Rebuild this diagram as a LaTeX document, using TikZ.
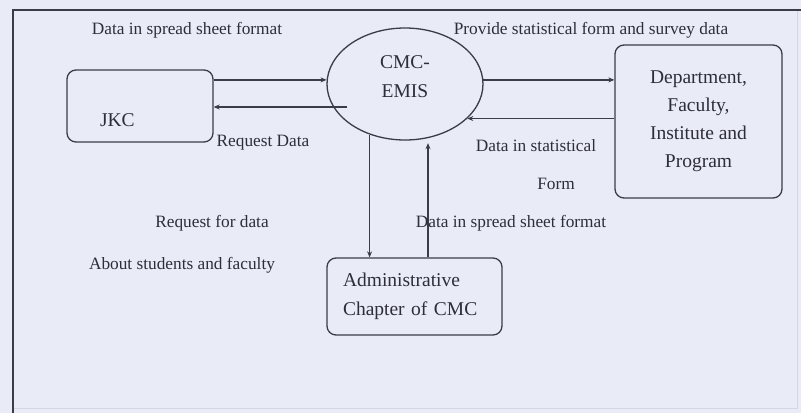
\documentclass[tikz,border=0pt]{standalone}
\usepackage{fontspec}
\setmainfont{Liberation Serif}
\usetikzlibrary{arrows.meta, positioning, shapes.geometric, calc}
\definecolor{pagebg}{HTML}{E9EBF7}
\definecolor{inkline}{HTML}{3C3C46}
\definecolor{inktext}{HTML}{2E2E38}
\definecolor{framefaint}{HTML}{D4D6E4}
\tikzset{
  flowbox/.style={rectangle, draw=inkline, line width=1.3pt, rounded corners=9pt,
                  inner sep=0pt, font=\fontsize{19.5}{28}\selectfont},
  flowlabel/.style={inner sep=0pt, font=\fontsize{17.3}{20}\selectfont},
  flowarrow/.style={draw=inkline, line width=1.5pt, -{Stealth[length=6pt, width=5pt]}},
}

\begin{document}
\begin{tikzpicture}[x=1pt, y=-1pt, every node/.style={text=inktext}]
  % page and frame
  \fill[pagebg] (0,0) rectangle (801,413);
  \useasboundingbox (0,0) rectangle (801,413);
  \draw[framefaint, line width=1pt] (797,10) -- (797,408) -- (13,408);
  \draw[inkline, line width=2pt] (13,413) -- (13,10) -- (801,10);

  % entities
  \node[ellipse, draw=inkline, line width=1.3pt, minimum width=156pt,
        minimum height=112pt, inner sep=0pt, align=center, text depth=15pt,
        font=\fontsize{19.5}{29}\selectfont]
    (emis) at (405,84) {CMC-\\EMIS};
  \node[flowbox, minimum width=146pt, minimum height=72pt, text width=80pt,
        align=left, text height=41pt]
    (jkc) at (140,106) {JKC};
  \node[flowbox, minimum width=167pt, minimum height=153pt, align=center]
    (dept) at (698.5,121.5) {Department,\\Faculty,\\Institute and\\Program};
  \node[flowbox, minimum width=175pt, minimum height=77pt, inner xsep=16pt,
        text width=143pt, align=left, font=\fontsize{19.5}{29}\selectfont]
    (admin) at (414.5,296.5) {Administrative\\Chapter of CMC};

  % flows
  \coordinate (emisin) at ($(emis.center)+(-58,23)$);
  \draw[flowarrow] (jkc.east |- emis.177) -- (emis.177);
  \draw[flowarrow] (emisin) -- (emisin -| jkc.east);
  \draw[flowarrow] (emis.3) -- (emis.3 -| dept.west);
  \draw[flowarrow] (emis.331 -| dept.west) -- (emis.331);
  \draw[flowarrow] (emis.235) -- (emis.235 |- admin.north);
  \draw[flowarrow, shorten >=5pt] (emis.293 |- admin.north) -- (emis.293);

  % flow labels
  \node[flowlabel] (sheetlbl) at (187,30) {Data in spread sheet format};
  \node[flowlabel] (providelbl) at (591,30) {Provide statistical form and survey data};
  \node[flowlabel] (requestlbl) at (263,143) {Request Data};
  \node[flowlabel] (statlbl) at (536,146) {Data in statistical};
  \node[flowlabel] (formlbl) at (556,184) {Form};
  \node[flowlabel] (askdatalbl) at (212,223) {Request for data};
  \node[flowlabel] (aboutlbl) at (182,265) {About students and faculty};
  \node[flowlabel] (sheetbacklbl) at (511,223) {Data in spread sheet format};
\end{tikzpicture}
\end{document}
